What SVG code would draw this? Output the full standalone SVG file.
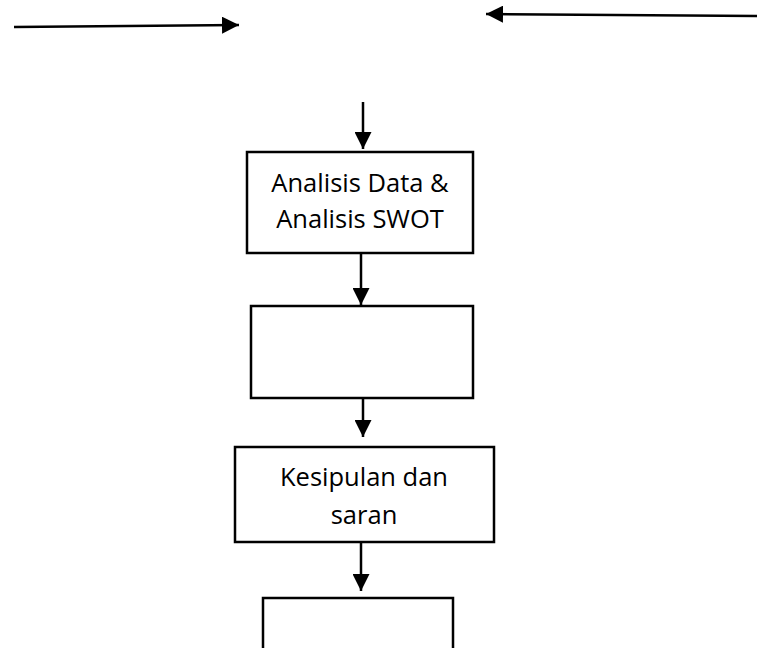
<svg xmlns="http://www.w3.org/2000/svg" width="757" height="648" viewBox="0 0 757 648">
<style>
.box{fill:#fff;stroke:#000;stroke-width:2.5}
.lbl{font-family:"Open Sans","Noto Sans",sans-serif;font-size:25.5px;fill:#000;text-anchor:middle}
.con{stroke:#000;stroke-width:2.5;fill:none}
</style>
<defs>
<marker id="ah" markerUnits="userSpaceOnUse" markerWidth="17" markerHeight="17" viewBox="0 0 17 17" refX="17" refY="8.5" orient="auto">
<path d="M0,0 L17,8.5 L0,17 Z" fill="#000"/>
</marker>
</defs>
<rect width="757" height="648" fill="#fff"/>
<g id="connectors">
<line class="con" x1="14" y1="27" x2="239" y2="25" marker-end="url(#ah)"/>
<line class="con" x1="757" y1="16" x2="486" y2="14" marker-end="url(#ah)"/>
<line class="con" x1="363" y1="102" x2="363" y2="149" marker-end="url(#ah)"/>
<line class="con" x1="361" y1="254" x2="361" y2="305" marker-end="url(#ah)"/>
<line class="con" x1="363" y1="398" x2="363" y2="437" marker-end="url(#ah)"/>
<line class="con" x1="361" y1="542" x2="361" y2="591" marker-end="url(#ah)"/>
</g>
<g id="node1">
<rect class="box" x="247" y="152" width="226" height="101"/>
<text class="lbl" x="360" y="192">Analisis Data &amp;</text>
<text class="lbl" x="360" y="228">Analisis SWOT</text>
</g>
<g id="node2">
<rect class="box" x="251" y="306" width="222" height="92"/>
</g>
<g id="node3">
<rect class="box" x="235" y="447" width="259" height="95"/>
<text class="lbl" x="364" y="486">Kesipulan dan</text>
<text class="lbl" x="364" y="524">saran</text>
</g>
<g id="node4">
<rect class="box" x="263" y="598" width="190" height="60"/>
</g>
</svg>
